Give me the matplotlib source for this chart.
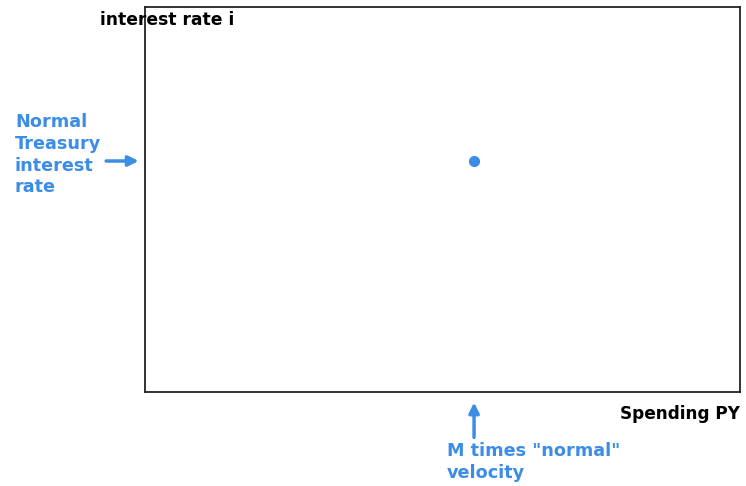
import matplotlib.pyplot as plt

# the "normal" point, as fractions of the axes range
normal_spending = 0.553
normal_rate = 0.60

blue = '#3b8de6'

fig = plt.figure(figsize=(7.46, 4.86), dpi=100)
ax = fig.add_axes([0.1944, 0.1934, 0.7976, 0.7922])
ax.set_xlim(0, 1)
ax.set_ylim(0, 1)
ax.set_xticks([])
ax.set_yticks([])
for s in ax.spines.values():
    s.set_linewidth(1.3)
    s.set_color('#222222')

ax.plot([normal_spending], [normal_rate], 'o', color=blue, markersize=7)

# axis labels
fig.text(100 / 746, 1 - 20 / 486, 'interest rate i', fontsize=12.3, fontweight='bold',
         ha='left', va='center', color='black')
ax.text(1.0, -0.057, 'Spending PY', transform=ax.transAxes, fontsize=12.2,
        fontweight='bold', ha='right', va='center', color='black')

# arrows pointing to the normal values
ax.annotate('', xy=(-0.006, normal_rate), xytext=(-0.07, normal_rate),
            arrowprops=dict(arrowstyle='-|>', color=blue, lw=2.5, mutation_scale=15),
            annotation_clip=False)
ax.annotate('', xy=(normal_spending, -0.02), xytext=(normal_spending, -0.125),
            arrowprops=dict(arrowstyle='-|>', color=blue, lw=2.5, mutation_scale=15),
            annotation_clip=False)

fig.text(15 / 746, 1 - 113 / 486, 'Normal\nTreasury\ninterest\nrate', fontsize=12.7,
         fontweight='bold', color=blue, ha='left', va='top', linespacing=1.27)
fig.text(447 / 746, 1 - 442 / 486, 'M times "normal"\nvelocity', fontsize=12.7,
         fontweight='bold', color=blue, ha='left', va='top', linespacing=1.27)

fig.savefig('out.png', dpi=100)
